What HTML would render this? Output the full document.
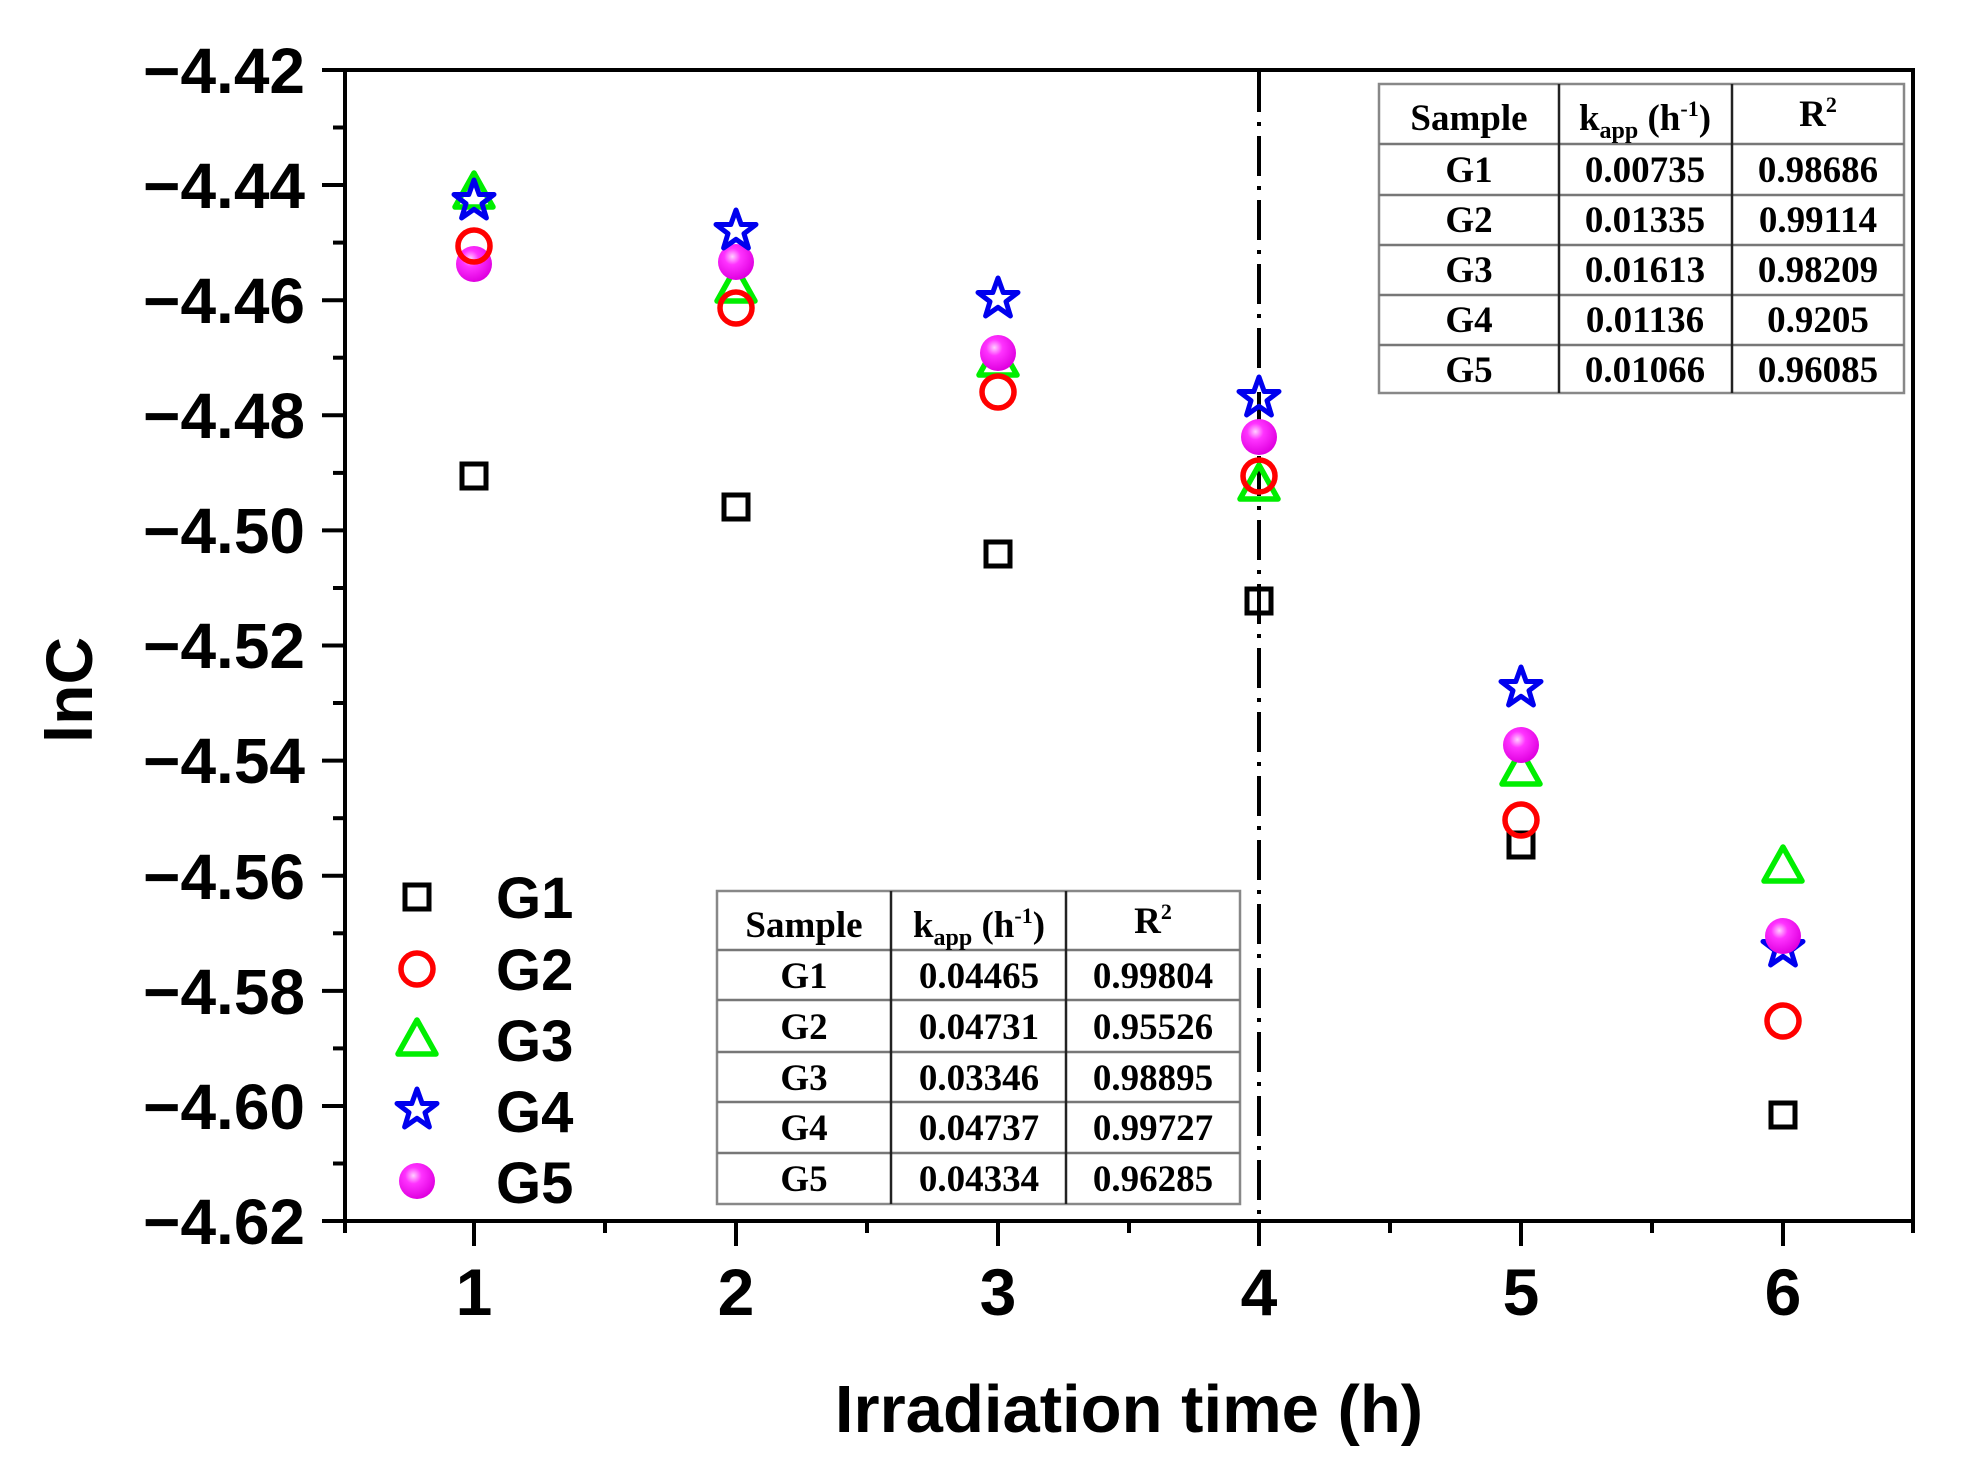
<!DOCTYPE html>
<html><head><meta charset="utf-8"><style>
html,body{margin:0;padding:0;background:#fff;}
svg{display:block;}
.t{font-family:"Liberation Sans",Arial,sans-serif;font-weight:bold;}
.tb{font-family:"Liberation Serif","Times New Roman",serif;font-weight:bold;font-size:37px;}
</style></head><body>
<svg width="1968" height="1473" viewBox="0 0 1968 1473" xmlns="http://www.w3.org/2000/svg">
<defs>
<radialGradient id="ball" cx="0.4" cy="0.35" r="0.65">
<stop offset="0" stop-color="#ffd0ff"/><stop offset="0.35" stop-color="#ff33ff"/><stop offset="1" stop-color="#e000e0"/>
</radialGradient>
<g id="sq"><rect x="-12" y="-12" width="24" height="24" fill="none" stroke="#000" stroke-width="5"/></g>
<g id="ci"><circle r="16" fill="none" stroke="#ff0000" stroke-width="5.5"/></g>
<g id="tr"><polygon points="0,-21 19,13 -19,13" fill="none" stroke="#00ee00" stroke-width="5.5" stroke-linejoin="round"/></g>
<g id="st"><polygon points="0,-21 5.2,-6.5 20,-6.5 8,2.6 12.4,17 0,8.3 -12.4,17 -8,2.6 -20,-6.5 -5.2,-6.5" fill="none" stroke="#0000ee" stroke-width="5" stroke-linejoin="round"/></g>
<g id="ba"><circle r="18" fill="url(#ball)"/></g>
</defs>
<rect x="345" y="70" width="1568" height="1151" fill="none" stroke="#000" stroke-width="4"/>
<g stroke="#000" stroke-width="4">
<line x1="322" y1="70" x2="345" y2="70"/><line x1="333" y1="127.5" x2="345" y2="127.5"/>
<line x1="322" y1="185" x2="345" y2="185"/><line x1="333" y1="242.6" x2="345" y2="242.6"/>
<line x1="322" y1="300.2" x2="345" y2="300.2"/><line x1="333" y1="357.7" x2="345" y2="357.7"/>
<line x1="322" y1="415.3" x2="345" y2="415.3"/><line x1="333" y1="472.9" x2="345" y2="472.9"/>
<line x1="322" y1="530.4" x2="345" y2="530.4"/><line x1="333" y1="588" x2="345" y2="588"/>
<line x1="322" y1="645.5" x2="345" y2="645.5"/><line x1="333" y1="703" x2="345" y2="703"/>
<line x1="322" y1="760.6" x2="345" y2="760.6"/><line x1="333" y1="818.2" x2="345" y2="818.2"/>
<line x1="322" y1="875.8" x2="345" y2="875.8"/><line x1="333" y1="933.3" x2="345" y2="933.3"/>
<line x1="322" y1="990.9" x2="345" y2="990.9"/><line x1="333" y1="1048.4" x2="345" y2="1048.4"/>
<line x1="322" y1="1106" x2="345" y2="1106"/><line x1="333" y1="1163.5" x2="345" y2="1163.5"/>
<line x1="322" y1="1221" x2="345" y2="1221"/>
<line x1="345" y1="1221" x2="345" y2="1233"/>
<line x1="474" y1="1221" x2="474" y2="1246"/><line x1="605" y1="1221" x2="605" y2="1233"/>
<line x1="736" y1="1221" x2="736" y2="1246"/><line x1="867" y1="1221" x2="867" y2="1233"/>
<line x1="998" y1="1221" x2="998" y2="1246"/><line x1="1129" y1="1221" x2="1129" y2="1233"/>
<line x1="1259" y1="1221" x2="1259" y2="1246"/><line x1="1390" y1="1221" x2="1390" y2="1233"/>
<line x1="1521" y1="1221" x2="1521" y2="1246"/><line x1="1652" y1="1221" x2="1652" y2="1233"/>
<line x1="1783" y1="1221" x2="1783" y2="1246"/><line x1="1913" y1="1221" x2="1913" y2="1233"/>
</g>
<g class="t" font-size="64" text-anchor="end">
<text x="305" y="93">−4.42</text><text x="305" y="208">−4.44</text><text x="305" y="323">−4.46</text>
<text x="305" y="438">−4.48</text><text x="305" y="553">−4.50</text><text x="305" y="668">−4.52</text>
<text x="305" y="783">−4.54</text><text x="305" y="899">−4.56</text><text x="305" y="1014">−4.58</text>
<text x="305" y="1129">−4.60</text><text x="305" y="1244">−4.62</text>
</g>
<g class="t" font-size="66" text-anchor="middle">
<text x="474" y="1315">1</text><text x="736" y="1315">2</text><text x="998" y="1315">3</text>
<text x="1259" y="1315">4</text><text x="1521" y="1315">5</text><text x="1783" y="1315">6</text>
</g>
<text class="t" font-size="67" x="1129" y="1432" text-anchor="middle">Irradiation time (h)</text>
<text class="t" font-size="66" transform="translate(92,690) rotate(-90)" text-anchor="middle">lnC</text>
<line x1="1259" y1="72" x2="1259" y2="1219" stroke="#000" stroke-width="4" stroke-dasharray="40,10,4,10"/>
<g>
<use href="#sq" x="474" y="476"/><use href="#sq" x="736" y="507"/><use href="#sq" x="998" y="554"/>
<use href="#sq" x="1259" y="601"/><use href="#sq" x="1521" y="845"/><use href="#sq" x="1783" y="1115"/>
<use href="#tr" x="474" y="194"/><use href="#tr" x="736" y="288"/><use href="#tr" x="998" y="362"/>
<use href="#tr" x="1259" y="486"/><use href="#tr" x="1521" y="771"/><use href="#tr" x="1783" y="868"/>
<use href="#ba" x="474" y="264"/><use href="#ba" x="736" y="262"/><use href="#ba" x="998" y="353"/>
<use href="#ba" x="1259" y="437"/><use href="#ba" x="1521" y="745"/>
<use href="#ci" x="474" y="246"/><use href="#ci" x="736" y="308"/><use href="#ci" x="998" y="392"/>
<use href="#ci" x="1259" y="476"/><use href="#ci" x="1521" y="820"/><use href="#ci" x="1783" y="1021"/>
<use href="#st" x="474" y="201"/><use href="#st" x="736" y="231"/><use href="#st" x="998" y="299"/>
<use href="#st" x="1259" y="398"/><use href="#st" x="1521" y="688"/><use href="#st" x="1783" y="948"/>
<use href="#ba" x="1783" y="936"/>
</g>
<use href="#sq" x="417" y="897"/><use href="#ci" x="417" y="969"/><use href="#tr" x="417" y="1041"/>
<use href="#st" x="417" y="1110"/><use href="#ba" x="417" y="1181"/>
<g class="t" font-size="58">
<text x="496" y="918">G1</text><text x="496" y="990">G2</text><text x="496" y="1061">G3</text>
<text x="496" y="1132">G4</text><text x="496" y="1203">G5</text>
</g>
<g>
<rect x="1379" y="84" width="525" height="309" fill="#fff" stroke="#888" stroke-width="2.5"/>
<g stroke="#777" stroke-width="2.5">
<line x1="1379" y1="144" x2="1904" y2="144"/><line x1="1379" y1="195" x2="1904" y2="195"/>
<line x1="1379" y1="245" x2="1904" y2="245"/><line x1="1379" y1="295" x2="1904" y2="295"/>
<line x1="1379" y1="345" x2="1904" y2="345"/>
</g>
<g stroke="#222" stroke-width="2.5"><line x1="1559" y1="84" x2="1559" y2="393"/><line x1="1732" y1="84" x2="1732" y2="393"/></g>
<g class="tb" text-anchor="middle">
<text x="1469" y="130">Sample</text>
<text x="1645" y="130">k<tspan font-size="24" dy="8">app</tspan><tspan dy="-8"> (h</tspan><tspan font-size="22" dy="-14">-1</tspan><tspan dy="14">)</tspan></text>
<text x="1818" y="126">R<tspan font-size="22" dy="-14">2</tspan></text>
<text x="1469" y="182">G1</text><text x="1645" y="182">0.00735</text><text x="1818" y="182">0.98686</text>
<text x="1469" y="232">G2</text><text x="1645" y="232">0.01335</text><text x="1818" y="232">0.99114</text>
<text x="1469" y="282">G3</text><text x="1645" y="282">0.01613</text><text x="1818" y="282">0.98209</text>
<text x="1469" y="332">G4</text><text x="1645" y="332">0.01136</text><text x="1818" y="332">0.9205</text>
<text x="1469" y="382">G5</text><text x="1645" y="382">0.01066</text><text x="1818" y="382">0.96085</text>
</g>
</g>
<g>
<rect x="717" y="891" width="523" height="313" fill="#fff" stroke="#888" stroke-width="2.5"/>
<g stroke="#777" stroke-width="2.5">
<line x1="717" y1="950" x2="1240" y2="950"/><line x1="717" y1="1000" x2="1240" y2="1000"/>
<line x1="717" y1="1052" x2="1240" y2="1052"/><line x1="717" y1="1102" x2="1240" y2="1102"/>
<line x1="717" y1="1153" x2="1240" y2="1153"/>
</g>
<g stroke="#222" stroke-width="2.5"><line x1="891" y1="891" x2="891" y2="1204"/><line x1="1066" y1="891" x2="1066" y2="1204"/></g>
<g class="tb" text-anchor="middle">
<text x="804" y="937">Sample</text>
<text x="979" y="937">k<tspan font-size="24" dy="8">app</tspan><tspan dy="-8"> (h</tspan><tspan font-size="22" dy="-14">-1</tspan><tspan dy="14">)</tspan></text>
<text x="1153" y="933">R<tspan font-size="22" dy="-14">2</tspan></text>
<text x="804" y="988">G1</text><text x="979" y="988">0.04465</text><text x="1153" y="988">0.99804</text>
<text x="804" y="1039">G2</text><text x="979" y="1039">0.04731</text><text x="1153" y="1039">0.95526</text>
<text x="804" y="1090">G3</text><text x="979" y="1090">0.03346</text><text x="1153" y="1090">0.98895</text>
<text x="804" y="1140">G4</text><text x="979" y="1140">0.04737</text><text x="1153" y="1140">0.99727</text>
<text x="804" y="1191">G5</text><text x="979" y="1191">0.04334</text><text x="1153" y="1191">0.96285</text>
</g>
</g>
</svg>
</body></html>
